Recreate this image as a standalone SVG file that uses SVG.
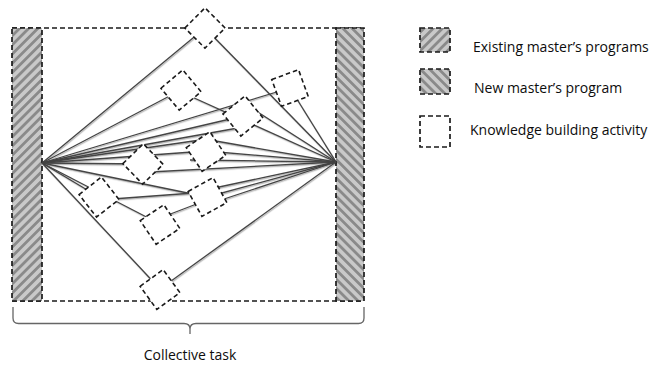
<svg xmlns="http://www.w3.org/2000/svg" width="668" height="366" viewBox="0 0 668 366">
  <defs>
    <!-- diagonal hatch rising to the right -->
    <pattern id="hatch-up" patternUnits="userSpaceOnUse" width="6.5" height="6.5" patternTransform="rotate(45)">
      <rect width="6.5" height="6.5" fill="#c9c9c9"/>
      <rect width="2.8" height="6.5" fill="#8a8a8a"/>
    </pattern>
    <!-- diagonal hatch falling to the right -->
    <pattern id="hatch-down" patternUnits="userSpaceOnUse" width="6.5" height="6.5" patternTransform="rotate(-45)">
      <rect width="6.5" height="6.5" fill="#c9c9c9"/>
      <rect width="2.8" height="6.5" fill="#8a8a8a"/>
    </pattern>
    <filter id="soft" x="-5%" y="-5%" width="110%" height="110%">
      <feDropShadow dx="0.8" dy="1.2" stdDeviation="0.7" flood-color="#000" flood-opacity="0.3"/>
    </filter>
  </defs>
  <style>
    .dash { fill: none; stroke: #1a1a1a; stroke-width: 1.7; stroke-dasharray: 5 3; }
    .bar { stroke: #1a1a1a; stroke-width: 1.7; stroke-dasharray: 5 3; }
    .act { fill: #ffffff; stroke: #1a1a1a; stroke-width: 1.6; stroke-dasharray: 4.5 3; }
    .link { stroke: #444444; stroke-width: 1.3; fill: none; }
    .brace { fill: none; stroke: #666666; stroke-width: 1.3; }
    .label { font-family: "Open Sans", "Liberation Sans", sans-serif; font-size: 14px; fill: #0d0d0d; }
  </style>

  <rect width="668" height="366" fill="#ffffff"/>

  <!-- collective task frame -->
  <g id="frame">
    <line class="dash" x1="12" y1="28" x2="364" y2="28"/>
    <line class="dash" x1="12" y1="301" x2="364" y2="301"/>
  </g>

  <!-- programme columns -->
  <g id="existing-programs">
    <rect class="bar" x="12" y="28" width="30" height="273" fill="url(#hatch-up)"/>
  </g>
  <g id="new-program">
    <rect class="bar" x="336" y="28" width="28" height="273" fill="url(#hatch-down)"/>
  </g>

  <!-- connectors between the columns and the activities -->
  <g id="connectors" class="link" filter="url(#soft)">
    <!-- from the existing programmes hub -->
    <line x1="42" y1="163" x2="205" y2="28"/>
    <line x1="42" y1="163" x2="181" y2="90"/>
    <line x1="42" y1="163" x2="290" y2="88"/>
    <line x1="42" y1="163" x2="243" y2="116"/>
    <line x1="42" y1="163" x2="238" y2="128"/>
    <line x1="42" y1="163" x2="214" y2="138"/>
    <line x1="42" y1="163" x2="206" y2="151"/>
    <line x1="42" y1="163" x2="143" y2="164"/>
    <line x1="42" y1="163" x2="99" y2="197"/>
    <line x1="42" y1="163" x2="207" y2="197"/>
    <line x1="42" y1="163" x2="160" y2="224"/>
    <line x1="42" y1="163" x2="160" y2="289"/>
    <!-- from the new programme hub -->
    <line x1="336" y1="162" x2="205" y2="28"/>
    <line x1="336" y1="162" x2="290" y2="88"/>
    <line x1="336" y1="162" x2="245" y2="104"/>
    <line x1="336" y1="162" x2="181" y2="92"/>
    <line x1="336" y1="162" x2="210" y2="140"/>
    <line x1="336" y1="162" x2="206" y2="151"/>
    <line x1="336" y1="162" x2="190" y2="160"/>
    <line x1="336" y1="162" x2="150" y2="172"/>
    <line x1="336" y1="162" x2="205" y2="190"/>
    <line x1="336" y1="162" x2="207" y2="197"/>
    <line x1="336" y1="162" x2="209" y2="204"/>
    <line x1="336" y1="162" x2="160" y2="289"/>
    <!-- between activities -->
    <line x1="99" y1="200" x2="207" y2="192"/>
    <line x1="160" y1="218" x2="207" y2="200"/>
  </g>

  <!-- knowledge building activities -->
  <g id="activity-1"><rect class="act" x="-14.25" y="-14.25" width="28.5" height="28.5" transform="translate(205 28) rotate(-45)"/></g>
  <g id="activity-2"><rect class="act" x="-14.25" y="-14.25" width="28.5" height="28.5" transform="translate(181 90) rotate(-40)"/></g>
  <g id="activity-3"><rect class="act" x="-14.25" y="-14.25" width="28.5" height="28.5" transform="translate(290 88) rotate(-20)"/></g>
  <g id="activity-4"><rect class="act" x="-14.25" y="-14.25" width="28.5" height="28.5" transform="translate(243 116) rotate(-39)"/></g>
  <g id="activity-5"><rect class="act" x="-14.25" y="-14.25" width="28.5" height="28.5" transform="translate(143 164) rotate(-44)"/></g>
  <g id="activity-6"><rect class="act" x="-14.25" y="-14.25" width="28.5" height="28.5" transform="translate(206 151.5) rotate(-34)"/></g>
  <g id="activity-7"><rect class="act" x="-14.25" y="-14.25" width="28.5" height="28.5" transform="translate(99 197) rotate(-38)"/></g>
  <g id="activity-8"><rect class="act" x="-14.25" y="-14.25" width="28.5" height="28.5" transform="translate(207.5 197) rotate(-29)"/></g>
  <g id="activity-9"><rect class="act" x="-14.25" y="-14.25" width="28.5" height="28.5" transform="translate(160 224.5) rotate(-34)"/></g>
  <g id="activity-10"><rect class="act" x="-14.25" y="-14.25" width="28.5" height="28.5" transform="translate(160 289.5) rotate(-36)"/></g>

  <!-- brace and caption -->
  <g id="collective-task">
    <path class="brace" d="M13,307 V318 Q13,323.5 18.5,323.5 H184 Q190,323.5 190,329 V334 M190,329 Q190,323.5 196,323.5 H358.5 Q364,323.5 364,318 V307"/>
    <text class="label" x="190" y="360" text-anchor="middle">Collective task</text>
  </g>

  <!-- legend -->
  <g id="legend">
    <rect class="bar" x="420" y="28" width="30" height="24" fill="url(#hatch-up)"/>
    <text class="label" x="473" y="52">Existing master’s programs</text>
    <rect class="bar" x="420" y="69" width="30" height="25" fill="url(#hatch-down)"/>
    <text class="label" x="474" y="93">New master’s program</text>
    <rect class="bar" x="420" y="116" width="30" height="31" fill="#ffffff"/>
    <text class="label" x="470" y="135">Knowledge building activity</text>
  </g>
</svg>
